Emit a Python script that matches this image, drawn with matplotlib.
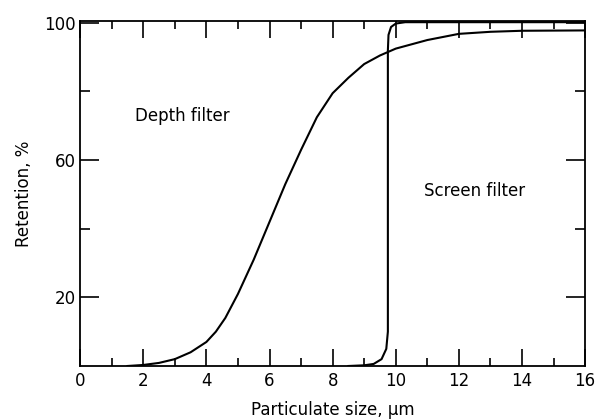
import matplotlib.pyplot as plt
from matplotlib.ticker import FixedLocator

# depth filter retention curve (particle size in um, retention %)
depth_x = [1.5, 2.0, 2.5, 3.0, 3.5, 4.0, 4.3, 4.6, 5.0, 5.5, 6.0, 6.5, 7.0,
           7.5, 8.0, 8.5, 9.0, 9.5, 10.0, 11.0, 12.0, 13.0, 14.0, 16.0]
depth_y = [0.0, 0.3, 0.9, 2.0, 4.0, 7.0, 10.0, 14.0, 21.0, 31.0, 42.0, 53.0, 63.0,
           72.5, 79.5, 84.0, 88.0, 90.5, 92.5, 95.0, 96.8, 97.4, 97.7, 97.8]

# screen filter: sharp cut-off near 9.75 um
screen_x = [8.5, 9.0, 9.3, 9.55, 9.7, 9.75, 9.75, 9.77, 9.85, 10.0, 10.3, 16.0]
screen_y = [0.0, 0.2, 0.6, 2.0, 5.0, 10.0, 92.0, 96.5, 98.8, 99.8, 100.2, 100.2]

x_major = [0, 2, 4, 6, 8, 10, 12, 14, 16]
x_minor = [1, 3, 5, 7, 9, 11, 13, 15]
y_major = [20, 60, 100]
y_minor = [40, 80]

plt.rcParams['font.family'] = ['DejaVu Sans']

fig = plt.figure(figsize=(6.07, 4.19), dpi=100)
ax = fig.add_axes([0.132, 0.1265, 0.832, 0.823])

ax.plot(depth_x, depth_y, color='black', linewidth=1.5)
ax.plot(screen_x, screen_y, color='black', linewidth=1.5)

ax.set_xlim(0, 16)
ax.set_ylim(0, 100.5)

ax.xaxis.set_major_locator(FixedLocator(x_major))
ax.xaxis.set_minor_locator(FixedLocator(x_minor))
ax.yaxis.set_major_locator(FixedLocator(y_major))
ax.yaxis.set_minor_locator(FixedLocator(y_minor))

ax.tick_params(axis='x', which='major', direction='in', length=12, width=1.2,
               top=True, labelsize=12, pad=4)
ax.tick_params(axis='x', which='minor', direction='in', length=6, width=1.2, top=True)
ax.tick_params(axis='y', which='major', direction='in', length=14, width=1.2,
               right=True, labelsize=12, pad=3)
ax.tick_params(axis='y', which='minor', direction='in', length=7, width=1.2, right=True)

for s in ax.spines.values():
    s.set_linewidth(1.3)

ax.text(1.75, 73, 'Depth filter', fontsize=12, va='center')
ax.text(10.9, 51, 'Screen filter', fontsize=12, va='center')

ax.set_xlabel('Particulate size, \u03bcm', fontsize=12, labelpad=8)
ax.set_ylabel('Retention, %', fontsize=12, labelpad=8)

fig.savefig('out.png', dpi=100)
